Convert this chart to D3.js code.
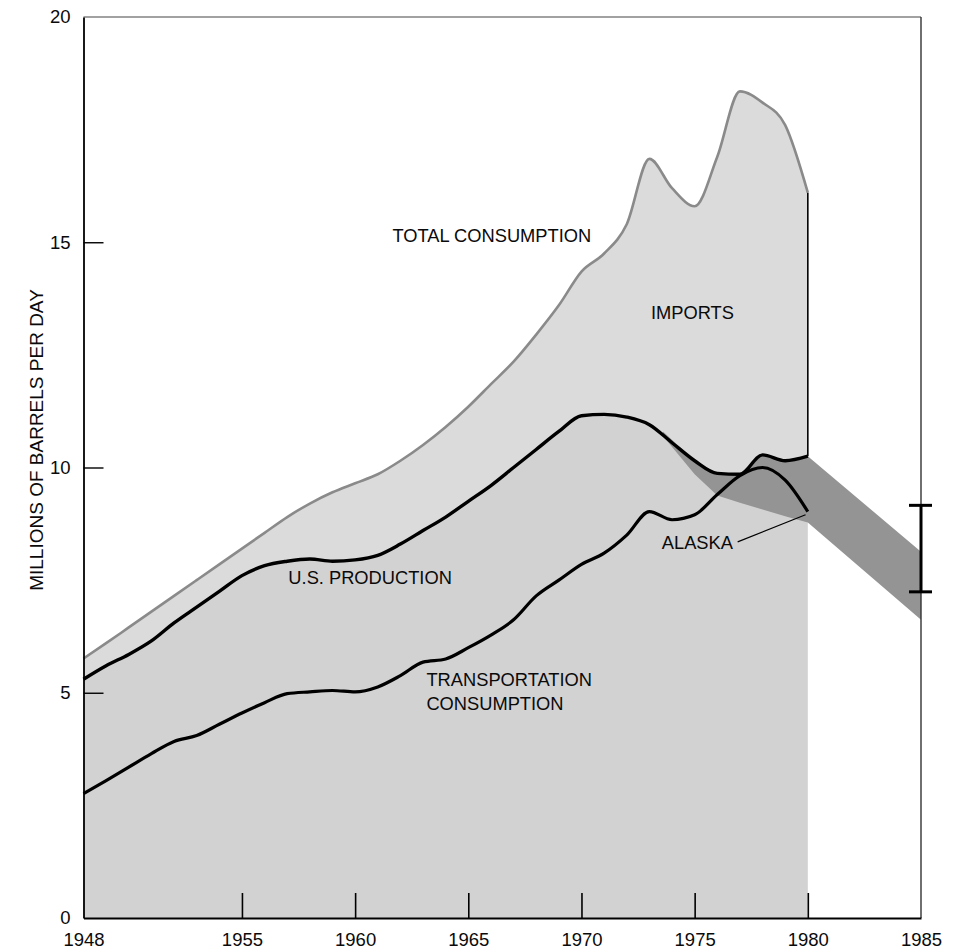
<!DOCTYPE html>
<html>
<head>
<meta charset="utf-8">
<script src="https://cdn.jsdelivr.net/npm/d3@7/dist/d3.min.js"></script>
<style>
  html, body { margin: 0; padding: 0; background: #fff; }
  svg { display: block; }
  text { font-family: "Liberation Sans", Arial, Helvetica, sans-serif; fill: #0a0a0a; }
</style>
</head>
<body>
<svg id="chart" width="961" height="949"></svg>
<script>
// U.S. oil supply and demand, millions of barrels per day
const years = [1948,1949,1950,1951,1952,1953,1954,1955,1956,1957,1958,1959,1960,
  1961,1962,1963,1964,1965,1966,1967,1968,1969,1970,1971,1972,1973,1974,1975,
  1976,1977,1978,1979,1980];

const totalConsumption = [5.76,6.1,6.45,6.8,7.15,7.5,7.85,8.2,8.55,8.9,9.2,9.45,9.65,
  9.85,10.15,10.5,10.9,11.35,11.85,12.35,12.95,13.6,14.35,14.75,15.4,16.85,16.2,15.8,
  16.9,18.35,18.1,17.6,16.1];

const usProduction = [5.3,5.6,5.85,6.15,6.55,6.9,7.25,7.6,7.82,7.92,7.97,7.92,7.95,
  8.05,8.3,8.6,8.9,9.25,9.6,10.0,10.4,10.8,11.15,11.18,11.12,10.95,10.55,10.15,
  9.87,9.85,10.28,10.15,10.25];

const transportation = [2.76,3.05,3.35,3.65,3.92,4.05,4.3,4.55,4.78,4.98,5.02,5.05,5.02,
  5.13,5.38,5.68,5.75,6.0,6.28,6.62,7.15,7.5,7.85,8.1,8.5,9.02,8.84,8.95,
  9.4,9.82,10.0,9.72,9.02];

// projected production range out to 1985
const bandYears = [1973.6, 1975, 1976, 1977, 1978, 1979, 1980, 1985];
const bandUpper = [10.8, 10.15, 9.87, 9.85, 10.28, 10.15, 10.25, 8.13];
const bandLower = [10.7, 9.85, 9.38, 9.22, 9.07, 8.92, 8.78, 6.62];

// 1985 estimate range
const errorYear = 1985;
const errorRange = [7.24, 9.16];

const xTicks = [1948, 1955, 1960, 1965, 1970, 1975, 1980, 1985];
const yTicks = [0, 5, 10, 15, 20];
const yTitle = "MILLIONS OF BARRELS PER DAY";

const labels = [
  { text: "TOTAL CONSUMPTION", year: 1961.65, value: 15.0 },
  { text: "IMPORTS", year: 1973.07, value: 13.3 },
  { text: "U.S. PRODUCTION", year: 1957.05, value: 7.41 },
  { text: "TRANSPORTATION", year: 1963.15, value: 5.15 },
  { text: "CONSUMPTION", year: 1963.15, value: 4.62 },
  { text: "ALASKA", year: 1973.55, value: 8.19 }
];
const alaskaLeader = [[1976.9, 8.35], [1979.9, 8.95]];

const svg = d3.select("#chart");

const x = d3.scaleLinear().domain([1948, 1985]).range([83.5, 921]);
const y = d3.scaleLinear().domain([0, 20]).range([918, 17]);

const rows = years.map((yr, i) => ({
  year: yr, total: totalConsumption[i], prod: usProduction[i], trans: transportation[i]
}));

// imports: between total consumption and domestic production
svg.append("path")
  .datum(rows)
  .attr("fill", "#dbdbdb")
  .attr("d", d3.area().curve(d3.curveMonotoneX)
    .x(d => x(d.year)).y0(d => y(d.prod)).y1(d => y(d.total)));

// domestic production down to zero
svg.append("path")
  .datum(rows)
  .attr("fill", "#d2d2d2")
  .attr("d", d3.area().curve(d3.curveMonotoneX)
    .x(d => x(d.year)).y0(y(0)).y1(d => y(d.prod)));

// projection band
const band = bandYears.map((yr, i) => ({ year: yr, hi: bandUpper[i], lo: bandLower[i] }));
svg.append("path")
  .datum(band)
  .attr("fill", "#949494")
  .attr("d", d3.area().curve(d3.curveLinear)
    .x(d => x(d.year)).y0(d => y(d.lo)).y1(d => y(d.hi)));

// series lines
const lineOf = key => d3.line().curve(d3.curveMonotoneX)
  .x(d => x(d.year)).y(d => y(d[key]));

svg.append("path").datum(rows)
  .attr("fill", "none").attr("stroke", "#8a8a8a").attr("stroke-width", 2.6)
  .attr("stroke-linejoin", "round").attr("d", lineOf("total"));

svg.append("path").datum(rows)
  .attr("fill", "none").attr("stroke", "#000").attr("stroke-width", 3.4)
  .attr("stroke-linejoin", "round").attr("d", lineOf("prod"));

svg.append("path").datum(rows)
  .attr("fill", "none").attr("stroke", "#000").attr("stroke-width", 3.2)
  .attr("stroke-linejoin", "round").attr("d", lineOf("trans"));

// closing edge of the historical record
const last = rows[rows.length - 1];
svg.append("line")
  .attr("x1", x(last.year)).attr("x2", x(last.year))
  .attr("y1", y(last.total)).attr("y2", y(last.prod))
  .attr("stroke", "#000").attr("stroke-width", 1.6);

// frame
svg.append("line").attr("x1", x(1948)).attr("x2", x(1985)).attr("y1", y(20)).attr("y2", y(20))
  .attr("stroke", "#444").attr("stroke-width", 1.2);
svg.append("line").attr("x1", x(1985)).attr("x2", x(1985)).attr("y1", y(20)).attr("y2", y(0))
  .attr("stroke", "#333").attr("stroke-width", 1.4);

// axes
const yAxis = d3.axisLeft(y).tickValues(yTicks).tickSizeInner(-20).tickSizeOuter(0)
  .tickPadding(13).tickFormat(d3.format("d"));
const gy = svg.append("g").attr("transform", `translate(${x(1948)},0)`).call(yAxis);
gy.select(".domain").attr("stroke", "#000").attr("stroke-width", 1.8);
gy.selectAll(".tick line").attr("stroke", "#000").attr("stroke-width", 1.4)
  .filter(d => d === 0 || d === 20).remove();
gy.selectAll(".tick text").attr("font-size", 18.5).attr("fill", "#0a0a0a")
  .attr("font-family", "Liberation Sans, Arial, sans-serif");

const xAxis = d3.axisBottom(x).tickValues(xTicks).tickSizeInner(-25).tickSizeOuter(0)
  .tickPadding(15).tickFormat(d3.format("d"));
const gx = svg.append("g").attr("transform", `translate(0,${y(0)})`).call(xAxis);
gx.select(".domain").attr("stroke", "#000").attr("stroke-width", 1.8);
gx.selectAll(".tick line").attr("stroke", "#000").attr("stroke-width", 1.6)
  .filter(d => d === 1948 || d === 1985).remove();
gx.selectAll(".tick text").attr("font-size", 18.5).attr("fill", "#0a0a0a")
  .attr("font-family", "Liberation Sans, Arial, sans-serif");

// y axis title
svg.append("text")
  .attr("transform", `translate(43,440) rotate(-90)`)
  .attr("text-anchor", "middle")
  .attr("font-size", 19)
  .text(yTitle);

// 1985 estimate bar
const eb = svg.append("g").attr("stroke", "#000").attr("stroke-width", 3);
eb.append("line").attr("x1", x(errorYear)).attr("x2", x(errorYear))
  .attr("y1", y(errorRange[0])).attr("y2", y(errorRange[1]));
errorRange.forEach(v => {
  eb.append("line").attr("x1", x(errorYear) - 12).attr("x2", x(errorYear) + 11)
    .attr("y1", y(v)).attr("y2", y(v));
});

// labels
svg.selectAll("text.lbl").data(labels).join("text")
  .attr("class", "lbl")
  .attr("x", d => x(d.year)).attr("y", d => y(d.value))
  .attr("font-size", 18.3)
  .text(d => d.text);

svg.append("line")
  .attr("x1", x(alaskaLeader[0][0])).attr("y1", y(alaskaLeader[0][1]))
  .attr("x2", x(alaskaLeader[1][0])).attr("y2", y(alaskaLeader[1][1]))
  .attr("stroke", "#000").attr("stroke-width", 1.2);
</script>
</body>
</html>
